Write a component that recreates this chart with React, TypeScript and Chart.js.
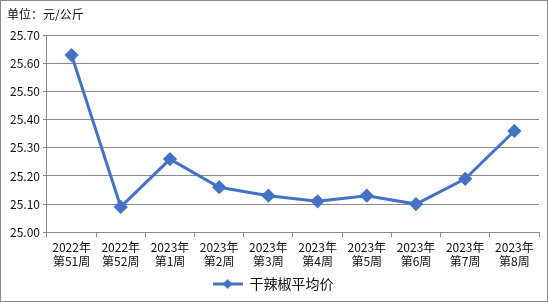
import React, { useEffect, useRef } from 'react';
import { Chart, registerables } from 'chart.js';

Chart.register(...registerables);

const categories: string[][] = [
  ['2022年', '第51周'],
  ['2022年', '第52周'],
  ['2023年', '第1周'],
  ['2023年', '第2周'],
  ['2023年', '第3周'],
  ['2023年', '第4周'],
  ['2023年', '第5周'],
  ['2023年', '第6周'],
  ['2023年', '第7周'],
  ['2023年', '第8周'],
];
const prices: number[] = [25.63, 25.09, 25.26, 25.16, 25.13, 25.11, 25.13, 25.10, 25.19, 25.36];
const seriesName = '干辣椒平均价';
const unitTitle = '单位：元/公斤';
const yMin = 25.0;
const yMax = 25.7;
const yStep = 0.1;

const LINE = '#4472C4';
const GRID = '#898989';
const FONT = '"Noto Sans CJK SC", "Noto Sans", sans-serif';

function makeLegendIcon(): HTMLCanvasElement {
  const c = document.createElement('canvas');
  c.width = 30;
  c.height = 12;
  const ctx = c.getContext('2d')!;
  ctx.strokeStyle = LINE;
  ctx.lineWidth = 3;
  ctx.beginPath();
  ctx.moveTo(0, 6);
  ctx.lineTo(30, 6);
  ctx.stroke();
  ctx.fillStyle = LINE;
  ctx.beginPath();
  ctx.moveTo(15, 1);
  ctx.lineTo(20, 6);
  ctx.lineTo(15, 11);
  ctx.lineTo(10, 6);
  ctx.closePath();
  ctx.fill();
  return c;
}

export default function App() {
  const ref = useRef<HTMLCanvasElement>(null);
  useEffect(() => {
    document.body.style.margin = '0';
    const icon = makeLegendIcon();
    const chart = new Chart(ref.current!, {
      type: 'line',
      data: {
        labels: categories,
        datasets: [
          {
            label: seriesName,
            data: prices,
            borderColor: LINE,
            backgroundColor: LINE,
            borderWidth: 3,
            pointStyle: 'rectRot',
            pointRadius: 5,
            pointBackgroundColor: LINE,
            pointBorderColor: LINE,
            tension: 0,
          },
        ],
      },
      options: {
        animation: false,
        responsive: false,
        maintainAspectRatio: false,
        layout: { padding: { left: 6, right: 8, top: 4, bottom: 0 } },
        plugins: {
          title: {
            display: true,
            text: unitTitle,
            align: 'start',
            color: '#111',
            font: { family: FONT, size: 12, weight: 'normal' },
            padding: { top: 2, bottom: 14 },
          },
          legend: {
            position: 'bottom',
            labels: {
              usePointStyle: true,
              pointStyle: icon as any,
              pointStyleWidth: 30,
              boxHeight: 12,
              color: '#111',
              font: { family: FONT, size: 14 },
              padding: 2,
            },
          },
          tooltip: { enabled: false },
        },
        scales: {
          x: {
            offset: true,
            afterFit: (s: any) => {
              s.height += 3;
            },
            grid: {
              offset: true,
              drawOnChartArea: false,
              drawTicks: true,
              tickLength: 5,
              color: GRID,
            },
            border: { display: true, color: GRID, width: 1 },
            ticks: {
              color: '#111',
              font: { family: FONT, size: 12, lineHeight: 1.2 },
              maxRotation: 0,
              autoSkip: false,
              padding: 3,
            },
          },
          y: {
            min: yMin,
            max: yMax,
            grid: {
              color: GRID,
              drawTicks: true,
              tickLength: 4,
            },
            border: { display: true, color: GRID, width: 1 },
            ticks: {
              stepSize: yStep,
              color: '#111',
              font: { family: FONT, size: 12 },
              padding: 3,
              callback: (v: any) => Number(v).toFixed(2),
            },
          },
        },
      },
    });
    return () => chart.destroy();
  }, []);
  return (
    <div
      style={{
        width: 548,
        height: 302,
        boxSizing: 'border-box',
        border: `1px solid ${GRID}`,
        background: '#fff',
      }}
    >
      <canvas ref={ref} width={546} height={300} style={{ display: 'block' }} />
    </div>
  );
}
